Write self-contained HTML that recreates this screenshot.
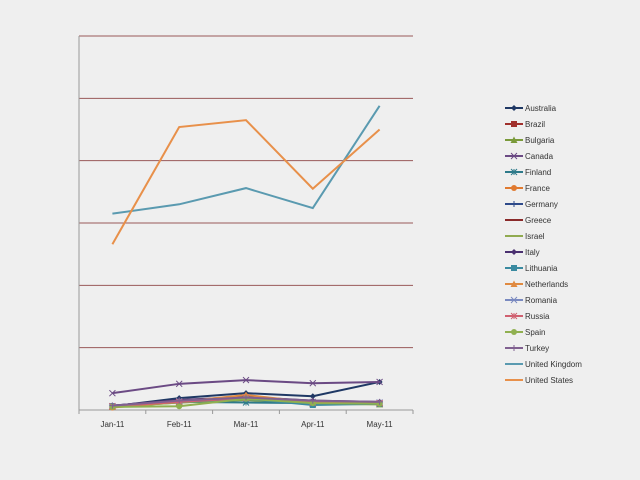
<!DOCTYPE html>
<html><head><meta charset="utf-8"><style>
body{margin:0;background:#efefef;}
svg{display:block;font-family:"Liberation Sans",sans-serif;}
</style></head><body>
<svg id="c" width="640" height="480"></svg>
<script>
const categories=["Jan-11","Feb-11","Mar-11","Apr-11","May-11"];
const seriesNames=["Australia","Brazil","Bulgaria","Canada","Finland","France","Germany","Greece","Israel","Italy","Lithuania","Netherlands","Romania","Russia","Spain","Turkey","United Kingdom","United States"];
const seriesColors=["#1f3864","#a0302c","#7a9a3a","#6b4a84","#2e7a8a","#e07a30","#2e4a8a","#8a2a2a","#90aa50","#4a3070","#3a8aa0","#e08a40","#7a8ac0","#d06070","#90b050","#806090","#5a9ab0","#e8904a"];
const seriesMarkers=["diamond","square","triangle","x","star","circle","plus","none","none","diamond","square","triangle","x","star","circle","plus","none","none"];
const australia=[0.6,1.9,2.7,2.2,4.5];
const brazil=[0.6,1.3,1.8,1.0,1.0];
const bulgaria=[0.5,1.2,1.6,1.0,0.9];
const canada=[2.7,4.2,4.8,4.3,4.5];
const finland=[0.6,1.3,1.2,1.1,1.0];
const france=[0.4,1.3,2.2,1.2,1.1];
const germany=[0.7,1.5,2.0,1.4,1.2];
const greece=[0.6,1.4,1.9,1.2,1.1];
const israel=[0.5,1.2,1.7,1.1,1.0];
const italy=[0.7,1.6,2.1,1.5,1.3];
const lithuania=[0.6,1.3,1.8,0.8,1.0];
const netherlands=[0.5,1.3,2.4,1.2,1.1];
const romania=[0.6,1.4,1.9,1.3,1.2];
const russia=[0.6,1.3,1.9,1.2,1.1];
const spain=[0.5,0.6,1.8,1.1,1.0];
const turkey=[0.7,1.5,2.0,1.5,1.3];
const uk=[31.5,33,35.6,32.4,48.8];
const us=[26.6,45.4,46.5,35.5,45];
const seriesValues=[australia,brazil,bulgaria,canada,finland,france,germany,greece,israel,italy,lithuania,netherlands,romania,russia,spain,turkey,uk,us];
const yMax=60, yStep=10;
const svg=document.getElementById('c');const NS='http://www.w3.org/2000/svg';
const L=79,R=413,T=36,B=410;
const xs=i=>L+(R-L)*(i+0.5)/categories.length;
const ys=v=>B-(B-T)*v/yMax;
function mk(t,a,p){const e=document.createElementNS(NS,t);for(const k in a)e.setAttribute(k,a[k]);(p||svg).appendChild(e);return e;}
for(let v=yStep;v<=yMax;v+=yStep){const g=mk('line',{x1:L,x2:R,y1:ys(v),y2:ys(v),stroke:'#9a5a5a','stroke-width':1});

}
const ya=mk('line',{x1:L,x2:L,y1:T,y2:B,stroke:'#999'});


const xa=mk('line',{x1:L,x2:R,y1:B,y2:B,stroke:'#999'});


for(let i=0;i<=categories.length;i++){const x=L+(R-L)*i/categories.length;mk('line',{x1:x,x2:x,y1:B,y2:B+4,stroke:'#999'});}
categories.forEach((c,i)=>{const t=mk('text',{x:xs(i),y:427,'text-anchor':'middle','font-size':8,fill:'#333'});t.textContent=c;

});
function marker(type,x,y,col,g){
if(type==='diamond')mk('polygon',{points:`${x},${y-3} ${x+3},${y} ${x},${y+3} ${x-3},${y}`,fill:col},g);
else if(type==='square')mk('rect',{x:x-3,y:y-3,width:6,height:6,fill:col},g);
else if(type==='triangle')mk('polygon',{points:`${x},${y-3.5} ${x+3.5},${y+3} ${x-3.5},${y+3}`,fill:col},g);
else if(type==='circle')mk('circle',{cx:x,cy:y,r:3,fill:col},g);
else if(type==='x'){mk('path',{d:`M${x-3} ${y-3}L${x+3} ${y+3}M${x-3} ${y+3}L${x+3} ${y-3}`,stroke:col,'stroke-width':1},g);}
else if(type==='star'){mk('path',{d:`M${x-3} ${y-3}L${x+3} ${y+3}M${x-3} ${y+3}L${x+3} ${y-3}M${x} ${y-3}L${x} ${y+3}`,stroke:col,'stroke-width':1},g);}
else if(type==='plus'){mk('path',{d:`M${x-3} ${y}L${x+3} ${y}M${x} ${y-3}L${x} ${y+3}`,stroke:col,'stroke-width':1},g);}
}
seriesValues.forEach((vals,s)=>{
const g=mk('g',{});


mk('polyline',{points:vals.map((v,i)=>xs(i)+','+ys(v)).join(' '),fill:'none',stroke:seriesColors[s],'stroke-width':2},g);
vals.forEach((v,i)=>marker(seriesMarkers[s],xs(i),ys(v),seriesColors[s],g));
});
seriesNames.forEach((n,s)=>{
const y=108+s*16;
const g=mk('g',{});


mk('line',{x1:505,x2:523,y1:y,y2:y,stroke:seriesColors[s],'stroke-width':2},g);
marker(seriesMarkers[s],514,y,seriesColors[s],g);
const t=mk('text',{x:525,y:y+3,'font-size':8,fill:'#333'},g);t.textContent=n;
});
</script>
</body></html>
